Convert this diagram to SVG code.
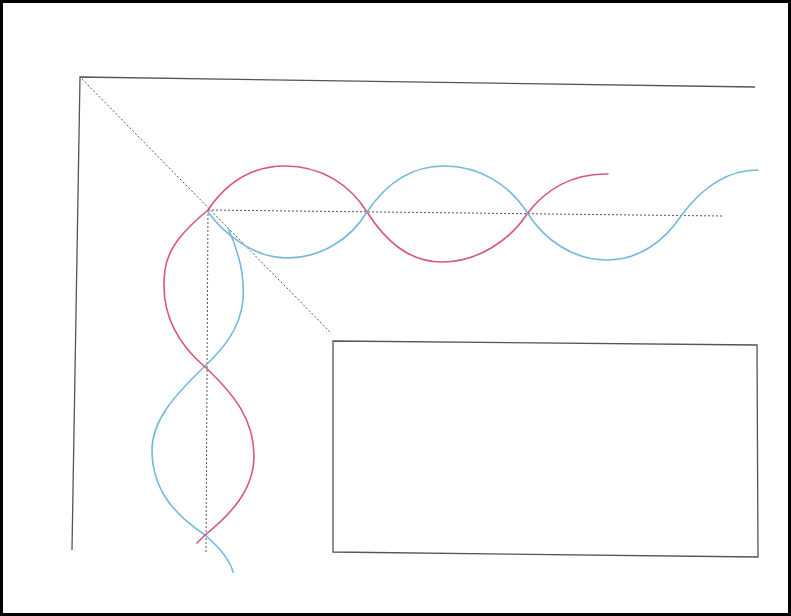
<svg xmlns="http://www.w3.org/2000/svg" width="791" height="616" viewBox="0 0 791 616">
<style>
.frame{fill:none;stroke:#000;stroke-width:3}
.ink{fill:none;stroke:#555;stroke-width:1.3}
.dash{fill:none;stroke:#555;stroke-width:1;stroke-dasharray:2 2}
.red{fill:none;stroke:#d9557c;stroke-width:1.6;stroke-linecap:round}
.blue{fill:none;stroke:#73b9dc;stroke-width:1.6;stroke-linecap:round}
</style>
<rect x="0" y="0" width="791" height="616" fill="#fff"/>
<rect class="frame" x="1.5" y="1.5" width="788" height="613"/>
<g id="outline">
<polyline class="ink" points="755,87 80,77 72,550"/>
<polygon class="ink" points="333,341 757,345 758,557 333,552"/>
</g>
<g id="guides">
<line class="dash" x1="82" y1="79" x2="331" y2="333"/>
<line class="dash" x1="208" y1="210" x2="722" y2="216"/>
<line class="dash" x1="208" y1="210" x2="206" y2="553"/>
</g>
<g id="waves">
<path class="red" d="M208,210 C225,185 250,166 285,166 C322,166 350,185 367,212 C385,240 408,262 442,262 C478,262 510,240 527,214 C545,190 572,173 608,174"/>
<path class="blue" d="M208,212 C225,235 255,258 287,258 C320,258 350,240 367,212 C385,185 410,166 444,166 C480,166 510,185 528,214 C545,240 573,260 607,260 C640,260 665,240 681,216 C700,190 725,170 758,170"/>
<path class="blue" d="M228,228 C238,250 245,275 243,300 C240,330 222,350 204,367 C175,395 152,420 152,450 C152,490 175,515 205,535 C220,548 230,560 233,572"/>
<path class="red" d="M208,210 C190,225 168,245 165,270 C161,300 168,335 204,366 C235,395 254,420 254,456 C254,490 230,515 205,535 C201,539 199,541 197,543"/>
</g>
</svg>
